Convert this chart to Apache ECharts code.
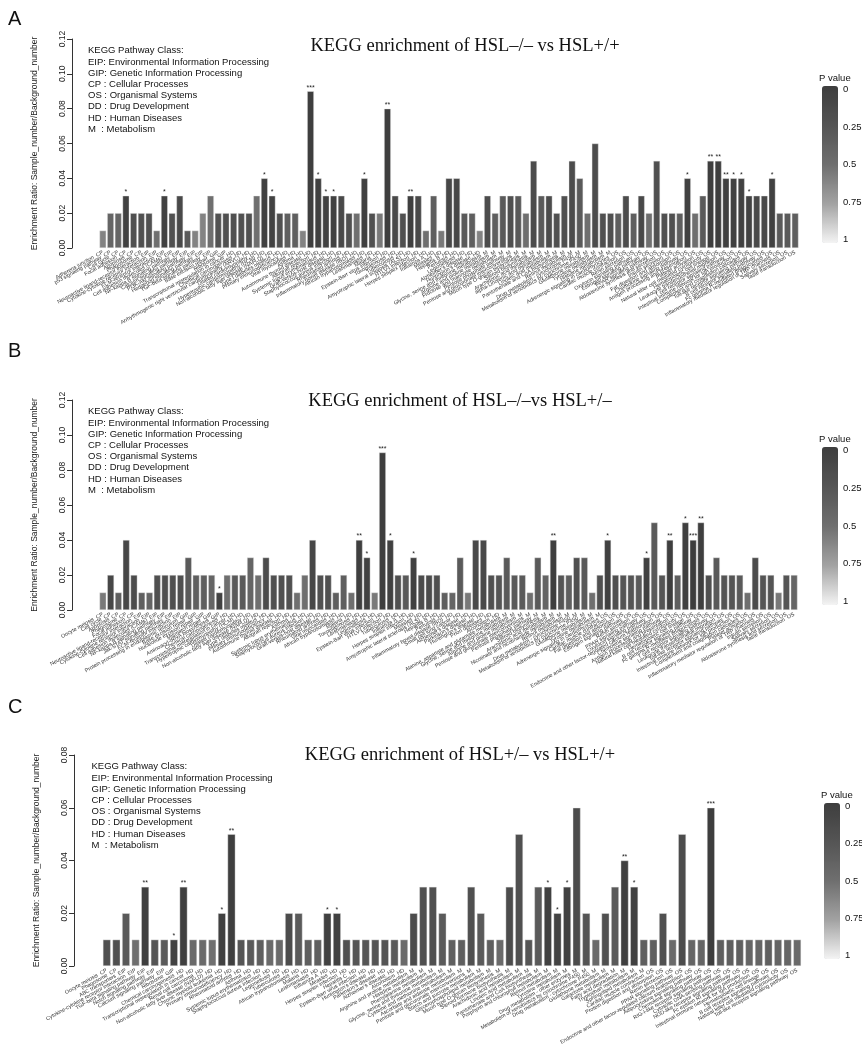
<!DOCTYPE html>
<html><head><meta charset="utf-8">
<script src="https://cdn.jsdelivr.net/npm/echarts/dist/echarts.min.js"></script>
<style>html,body{margin:0;padding:0;background:#fff}#c{width:862px;height:1052px}</style>
</head><body><div id="c"></div>
<script>
// ---------------- DATA ----------------
const catsA = [
"Adherens junction  CP","p53 signaling pathway  CP","Cell cycle  CP","Focal adhesion  CP","Apoptosis  CP","Phagosome  CP",
"Neuroactive ligand-receptor interaction  EIP","Cytokine-cytokine receptor interaction  EIP","ECM-receptor interaction  EIP","Cell adhesion molecules (CAMs)  EIP","NF-kappa B signaling pathway  EIP","Calcium signaling pathway  EIP","PI3K-Akt signaling pathway  EIP","Hedgehog signaling pathway  EIP","TGF-beta signaling pathway  EIP",
"Base excision repair  GIP","Ribosome  GIP",
"Transcriptional misregulation in cancer  HD","Chemical carcinogenesis  HD","Arrhythmogenic right ventricular cardiomyopathy (ARVC)  HD","Dilated cardiomyopathy  HD","Hypertrophic cardiomyopathy (HCM)  HD","Non-alcoholic fatty liver disease (NAFLD)  HD","Type I diabetes mellitus  HD","Primary immunodeficiency  HD","Viral myocarditis  HD","Asthma  HD","Autoimmune thyroid disease  HD","Allograft rejection  HD","Systemic lupus erythematosus  HD","Graft-versus-host disease  HD","Staphylococcus aureus infection  HD","Rheumatoid arthritis  HD","Inflammatory bowel disease (IBD)  HD","African trypanosomiasis  HD","Leishmaniasis  HD","Malaria  HD","Epstein-Barr virus infection  HD","Toxoplasmosis  HD","Tuberculosis  HD","Amyotrophic lateral sclerosis (ALS)  HD","HTLV-I infection  HD","Herpes simplex infection  HD","Influenza A  HD","Measles  HD","Hepatitis B  HD","Pertussis  HD","Legionellosis  HD","Alzheimer's disease  HD","Huntington's disease  HD",
"Glycine, serine and threonine metabolism  M","Arginine and proline metabolism  M","Fructose and mannose metabolism  M","Pentose phosphate pathway  M","Pentose and glucuronate interconversions  M","Mucin type O-glycan biosynthesis  M","Steroid biosynthesis  M","Arachidonic acid metabolism  M","alpha-Linolenic acid metabolism  M","Linoleic acid metabolism  M","Pantothenate and CoA biosynthesis  M","Retinol metabolism  M","Drug metabolism - cytochrome P450  M","Metabolism of xenobiotics by cytochrome P450  M","Glutathione metabolism  M","Tyrosine metabolism  M","Histidine metabolism  M",
"Adrenergic signaling in cardiomyocytes  OS","Cardiac muscle contraction  OS","Renin secretion  OS","Oxytocin signaling pathway  OS","Estrogen signaling pathway  OS","PPAR signaling pathway  OS","Aldosterone synthesis and secretion  OS","Insulin secretion  OS","Fat digestion and absorption  OS","Chemokine signaling pathway  OS","Antigen processing and presentation  OS","Platelet activation  OS","Natural killer cell mediated cytotoxicity  OS","Hematopoietic cell lineage  OS","Leukocyte transendothelial migration  OS","T cell receptor signaling pathway  OS","Intestinal immune network for IgA production  OS","Complement and coagulation cascades  OS","Toll-like receptor signaling pathway  OS","B cell receptor signaling pathway  OS","Fc gamma R-mediated phagocytosis  OS","Inflammatory mediator regulation of TRP channels  OS","Salivary secretion  OS","Taste transduction  OS"];
const ratioA = [0.01,0.02,0.02,0.03,0.02,0.02,0.02,0.01,0.03,0.02,0.03,0.01,0.01,0.02,0.03,0.02,0.02,0.02,0.02,0.02,0.03,0.04,0.03,0.02,0.02,0.02,0.01,0.09,0.04,0.03,0.03,0.03,0.02,0.02,0.04,0.02,0.02,0.08,0.03,0.02,0.03,0.03,0.01,0.03,
0.01,0.04,0.04,0.02,0.02,0.01,0.03,0.02,0.03,0.03,0.03,0.02,0.05,0.03,0.03,0.02,0.03,0.05,0.04,0.02,0.06,0.02,0.02,0.02,0.03,0.02,0.03,0.02,0.05,0.02,0.02,0.02,0.04,0.02,0.03,0.05,0.05,0.04,0.04,0.04,0.03,0.03,0.03,0.04,0.02,0.02,0.02];
const pA = [0.6,0.4,0.4,0.03,0.2,0.2,0.2,0.5,0.03,0.2,0.12,0.3,0.6,0.6,0.5,0.22,0.2,0.2,0.2,0.2,0.5,0.02,0.04,0.2,0.35,0.35,0.6,0.0005,0.02,0.04,0.04,0.12,0.2,0.5,0.02,0.2,0.55,0.005,0.12,0.2,0.008,0.12,0.5,0.35,
0.55,0.1,0.1,0.3,0.35,0.6,0.15,0.35,0.3,0.2,0.3,0.5,0.15,0.3,0.15,0.2,0.2,0.15,0.3,0.5,0.15,0.2,0.2,0.35,0.15,0.35,0.12,0.5,0.2,0.2,0.2,0.35,0.03,0.5,0.3,0.005,0.005,0.008,0.02,0.03,0.04,0.12,0.12,0.03,0.3,0.3,0.35];

const catsB = [
"Oocyte meiosis  CP","Cell cycle  CP","Apoptosis  CP","Phagosome  CP","Focal adhesion  CP",
"Neuroactive ligand-receptor interaction  EIP","Cytokine-cytokine receptor interaction  EIP","Cell adhesion molecules (CAMs)  EIP","NF-kappa B signaling pathway  EIP","Jak-STAT signaling pathway  EIP","ECM-receptor interaction  EIP",
"Protein processing in endoplasmic reticulum  GIP","Base excision repair  GIP","Nucleotide excision repair  GIP","Mismatch repair  GIP","Aminoacyl-tRNA biosynthesis  GIP",
"Chemical carcinogenesis  HD","Transcriptional misregulation in cancer  HD","Hypertrophic cardiomyopathy (HCM)  HD","Dilated cardiomyopathy  HD","Non-alcoholic fatty liver disease (NAFLD)  HD","Type I diabetes mellitus  HD","Primary immunodeficiency  HD","Autoimmune thyroid disease  HD","Allograft rejection  HD","Asthma  HD","Systemic lupus erythematosus  HD","Staphylococcus aureus infection  HD","Graft-versus-host disease  HD","Rheumatoid arthritis  HD","Viral myocarditis  HD","African trypanosomiasis  HD","Malaria  HD","Toxoplasmosis  HD","Leishmaniasis  HD","Legionellosis  HD","Epstein-Barr virus infection  HD","HTLV-I infection  HD","Tuberculosis  HD","Influenza A  HD","Herpes simplex infection  HD","Measles  HD","Amyotrophic lateral sclerosis (ALS)  HD","Hepatitis B  HD","Pertussis  HD","Inflammatory bowel disease (IBD)  HD","Small cell lung cancer  HD","Alzheimer's disease  HD","Parkinson's disease  HD","Huntington's disease  HD","Prion diseases  HD","Alcoholism  HD",
"Alanine, aspartate and glutamate metabolism  M","Glycine, serine and threonine metabolism  M","Arginine and proline metabolism  M","Pentose and glucuronate interconversions  M","Pentose phosphate pathway  M","Steroid biosynthesis  M","Arachidonic acid metabolism  M","Nicotinate and nicotinamide metabolism  M","Retinol metabolism  M","Drug metabolism - cytochrome P450  M","Metabolism of xenobiotics by cytochrome P450  M","Glutathione metabolism  M","Tyrosine metabolism  M",
"Adrenergic signaling in cardiomyocytes  OS","Cardiac muscle contraction  OS","Fat digestion and absorption  OS","Estrogen signaling pathway  OS","Renin secretion  OS","PPAR signaling pathway  OS","Oxytocin signaling pathway  OS","Endocrine and other factor-regulated calcium reabsorption  OS","Chemokine signaling pathway  OS","Antigen processing and presentation  OS","Natural killer cell mediated cytotoxicity  OS","Hematopoietic cell lineage  OS","B cell receptor signaling pathway  OS","Fc gamma R-mediated phagocytosis  OS","T cell receptor signaling pathway  OS","Leukocyte transendothelial migration  OS","Toll-like receptor signaling pathway  OS","Intestinal immune network for IgA production  OS","Complement and coagulation cascades  OS","Platelet activation  OS","Inflammatory mediator regulation of TRP channels  OS","Insulin secretion  OS","Salivary secretion  OS","Aldosterone synthesis and secretion  OS","Taste transduction  OS"];
const ratioB = [0.01,0.02,0.01,0.04,0.02,0.01,0.01,0.02,0.02,0.02,0.02,0.03,0.02,0.02,0.02,0.01,0.02,0.02,0.02,0.03,0.02,0.03,0.02,0.02,0.02,0.01,0.02,0.04,0.02,0.02,0.01,0.02,0.01,0.04,0.03,0.01,0.09,0.04,0.02,0.02,0.03,0.02,0.02,0.02,
0.01,0.01,0.03,0.01,0.04,0.04,0.02,0.02,0.03,0.02,0.02,0.01,0.03,0.02,0.04,0.02,0.02,0.03,0.03,0.01,0.02,0.04,0.02,0.02,0.02,0.02,0.03,0.05,0.02,0.04,0.02,0.05,0.04,0.05,0.02,0.03,0.02,0.02,0.02,0.01,0.03,0.02,0.02,0.01,0.02,0.02];
const pB = [0.55,0.1,0.35,0.1,0.15,0.35,0.4,0.2,0.2,0.2,0.2,0.3,0.35,0.35,0.4,0.04,0.5,0.3,0.3,0.4,0.5,0.15,0.2,0.2,0.2,0.5,0.5,0.1,0.2,0.2,0.35,0.35,0.5,0.006,0.03,0.55,0.0005,0.02,0.2,0.3,0.03,0.15,0.15,0.2,
0.35,0.4,0.3,0.55,0.12,0.12,0.2,0.25,0.3,0.3,0.3,0.5,0.3,0.4,0.008,0.25,0.35,0.2,0.3,0.5,0.2,0.03,0.2,0.25,0.25,0.3,0.03,0.3,0.25,0.008,0.35,0.02,0.0008,0.006,0.2,0.3,0.25,0.25,0.3,0.5,0.15,0.25,0.25,0.55,0.25,0.4];

const catsC = [
"Oocyte meiosis  CP","Phagosome  CP",
"ABC transporters  EIP","Cytokine-cytokine receptor interaction  EIP","TGF-beta signaling pathway  EIP","Notch signaling pathway  EIP","Calcium signaling pathway  EIP",
"Ribosome  GIP",
"Chemical carcinogenesis  HD","Transcriptional misregulation in cancer  HD","Renal cell carcinoma  HD","Non-alcoholic fatty liver disease (NAFLD)  HD","Chronic myeloid leukemia  HD","Primary immunodeficiency  HD","Rheumatoid arthritis  HD","Asthma  HD","Systemic lupus erythematosus  HD","Staphylococcus aureus infection  HD","Legionellosis  HD","Tuberculosis  HD","African trypanosomiasis  HD","Malaria  HD","Leishmaniasis  HD","Influenza A  HD","Measles  HD","Herpes simplex infection  HD","Hepatitis C  HD","Epstein-Barr virus infection  HD","Huntington's disease  HD","Parkinson's disease  HD","Alzheimer's disease  HD","Alcoholism  HD",
"Arginine and proline metabolism  M","Histidine metabolism  M","Phenylalanine metabolism  M","Glycine, serine and threonine metabolism  M","Cysteine and methionine metabolism  M","Ascorbate and aldarate metabolism  M","Pentose and glucuronate interconversions  M","Starch and sucrose metabolism  M","Glycerophospholipid metabolism  M","Mucin type O-glycan biosynthesis  M","Steroid hormone biosynthesis  M","Arachidonic acid metabolism  M","Linoleic acid metabolism  M","Pantothenate and CoA biosynthesis  M","Porphyrin and chlorophyll metabolism  M","Retinol metabolism  M","Tyrosine metabolism  M","Drug metabolism - other enzymes  M","Metabolism of xenobiotics by cytochrome P450  M","Drug metabolism - cytochrome P450  M","Glutathione metabolism  M","Galactose metabolism  M","Fatty acid degradation  M","Tryptophan metabolism  M","Sphingolipid metabolism  M",
"Cardiac muscle contraction  OS","Protein digestion and absorption  OS","Renin secretion  OS","PPAR signaling pathway  OS","Endocrine and other factor-regulated calcium reabsorption  OS","Adipocytokine signaling pathway  OS","Chemokine signaling pathway  OS","RIG-I-like receptor signaling pathway  OS","Cytosolic DNA-sensing pathway  OS","NOD-like receptor signaling pathway  OS","Fc epsilon RI signaling pathway  OS","Intestinal immune network for IgA production  OS","Hematopoietic cell lineage  OS","B cell receptor signaling pathway  OS","Natural killer cell mediated cytotoxicity  OS","Toll-like receptor signaling pathway  OS"];
const ratioC = [0.01,0.01,0.02,0.01,0.03,0.01,0.01,0.01,0.03,0.01,0.01,0.01,0.02,0.05,0.01,0.01,0.01,0.01,0.01,0.02,
0.02,0.01,0.01,0.02,0.02,0.01,0.01,0.01,0.01,0.01,0.01,0.01,0.02,0.03,0.03,0.02,0.01,0.01,0.03,0.02,
0.01,0.01,0.03,0.05,0.01,0.03,0.03,0.02,0.03,0.06,0.02,0.01,0.02,0.03,0.04,0.03,0.01,0.01,0.02,0.01,
0.05,0.01,0.01,0.06,0.01,0.01,0.01,0.01,0.01,0.01,0.01,0.01,0.01];
const pC = [0.2,0.2,0.3,0.5,0.008,0.25,0.3,0.04,0.008,0.45,0.45,0.5,0.03,0.006,0.25,0.3,0.35,0.45,0.45,0.15,
0.3,0.35,0.35,0.03,0.03,0.2,0.25,0.25,0.25,0.25,0.3,0.45,0.15,0.2,0.2,0.3,0.35,0.35,0.2,0.3,
0.35,0.45,0.15,0.2,0.25,0.3,0.03,0.04,0.03,0.15,0.25,0.45,0.2,0.3,0.008,0.03,0.35,0.35,0.2,0.45,
0.15,0.4,0.4,0.0005,0.35,0.35,0.35,0.4,0.4,0.35,0.4,0.4,0.45];

const titles = ["KEGG enrichment of HSL\u2013/\u2013 vs HSL+/+","KEGG enrichment of HSL\u2013/\u2013vs HSL+/\u2013","KEGG enrichment of HSL+/\u2013 vs HSL+/+"];
const panelLetters = ["A","B","C"];
const classLegend = ["KEGG Pathway Class:","EIP: Environmental Information Processing","GIP: Genetic Information Processing","CP : Cellular Processes","OS : Organismal Systems","DD : Drug Development","HD : Human Diseases","M  : Metabolism"];
const pTicks = [0, 0.25, 0.5, 0.75, 1];
const yName = "Enrichment Ratio: Sample_number/Background_number";

// ---------------- LAYOUT ----------------
const panels = [
  {cats:catsA, ratio:ratioA, p:pA, max:0.12, grid:{left:99, top:39, width:700, height:209}, off:27, gap:'13%',
   titleY:46.5, titleX:465, legX:88, legY:45.1, cbX:822, cbTop:86, cbH:157, letterY:20},
  {cats:catsB, ratio:ratioB, p:pB, max:0.12, grid:{left:99, top:400, width:699, height:210}, off:27, gap:'13%',
   titleY:401, titleX:460, legX:88, legY:406.1, cbX:822, cbTop:447, cbH:158, letterY:352},
  {cats:catsC, ratio:ratioC, p:pC, max:0.08, grid:{left:102, top:755, width:700, height:211}, off:28, gap:'19%',
   titleY:755, titleX:460, legX:91.5, legY:761.1, cbX:824, cbTop:803, cbH:156, letterY:708}
];

const stars = p => p < 0.001 ? '***' : p < 0.01 ? '**' : p < 0.05 ? '*' : '';
const sans = '"Liberation Sans", Arial, Helvetica, sans-serif';
const serif = '"Liberation Serif", "Times New Roman", serif';

const option = {
  animation:false,
  backgroundColor:'#fff',
  grid: panels.map(pn => pn.grid),
  xAxis: panels.map((pn,i) => ({
    type:'category', gridIndex:i, data:pn.cats,
    axisLine:{show:false}, axisTick:{show:false},
    axisLabel:{interval:0, rotate:29, fontSize:5.4, color:'#333', margin:4, fontFamily:sans}
  })),
  yAxis: panels.map((pn,i) => ({
    type:'value', gridIndex:i, min:0, max:pn.max, interval:0.02, offset:pn.off,
    name:yName, nameLocation:'middle', nameGap:33,
    nameTextStyle:{fontSize:8.5, color:'#222', fontFamily:sans},
    axisLine:{show:true, lineStyle:{color:'#333', width:1}},
    axisTick:{show:true, length:5, lineStyle:{color:'#333'}},
    axisLabel:{rotate:90, fontSize:8.5, margin:5, color:'#222', fontFamily:sans, formatter:v=>v.toFixed(2)},
    splitLine:{show:false}
  })),
  visualMap: panels.map((pn,i) => ({
    type:'continuous', seriesIndex:i, dimension:2, min:0, max:1, inverse:true,
    calculable:false, show:true, orient:'vertical', left:pn.cbX, top:pn.cbTop,
    itemWidth:16, itemHeight:pn.cbH, padding:0, text:null, hoverLink:false,
    inRange:{color:['#3e3e3e','#555555','#6f6f6f','#a2a2a2','#f4f4f4']}
  })),
  series: panels.map((pn,i) => ({
    type:'bar', xAxisIndex:i, yAxisIndex:i, silent:true,
    data: pn.cats.map((c,j) => [c, pn.ratio[j], pn.p[j]]),
    encode:{x:0, y:1},
    barCategoryGap:pn.gap,
    itemStyle:{borderColor:'rgba(230,230,230,0.8)', borderWidth:0.5},
    label:{show:true, position:'top', distance:0, fontSize:7, color:'#222', fontFamily:sans,
      formatter: prm => stars(pn.p[prm.dataIndex])}
  })),
  graphic: []
};

panels.forEach((pn,i) => {
  option.graphic.push({type:'text', left:8, top:pn.letterY-11, style:{text:panelLetters[i], font:'20px '+sans, fill:'#111'}});
  option.graphic.push({type:'text', x:pn.titleX, y:pn.titleY, style:{text:titles[i], font:'18.5px '+serif, fill:'#111', textAlign:'center', textVerticalAlign:'middle'}});
  option.graphic.push({type:'text', x:pn.legX, y:pn.legY, style:{text:classLegend.join('\n'), font:'9.5px '+sans, lineHeight:11.2, fill:'#111', textAlign:'left', textVerticalAlign:'top'}});
  option.graphic.push({type:'text', x:pn.cbX-3, y:pn.cbTop-8, style:{text:'P value', font:'9.5px '+sans, fill:'#111', textAlign:'left', textVerticalAlign:'middle'}});
  pTicks.forEach(t => {
    option.graphic.push({type:'text', x:pn.cbX+21, y:pn.cbTop+3.3+t*(pn.cbH-6.6), style:{text:String(t), font:'9.5px '+sans, fill:'#111', textAlign:'left', textVerticalAlign:'middle'}});
  });
});

const chart = echarts.init(document.getElementById('c'), null, {renderer:'canvas'});
chart.setOption(option);
</script></body></html>
